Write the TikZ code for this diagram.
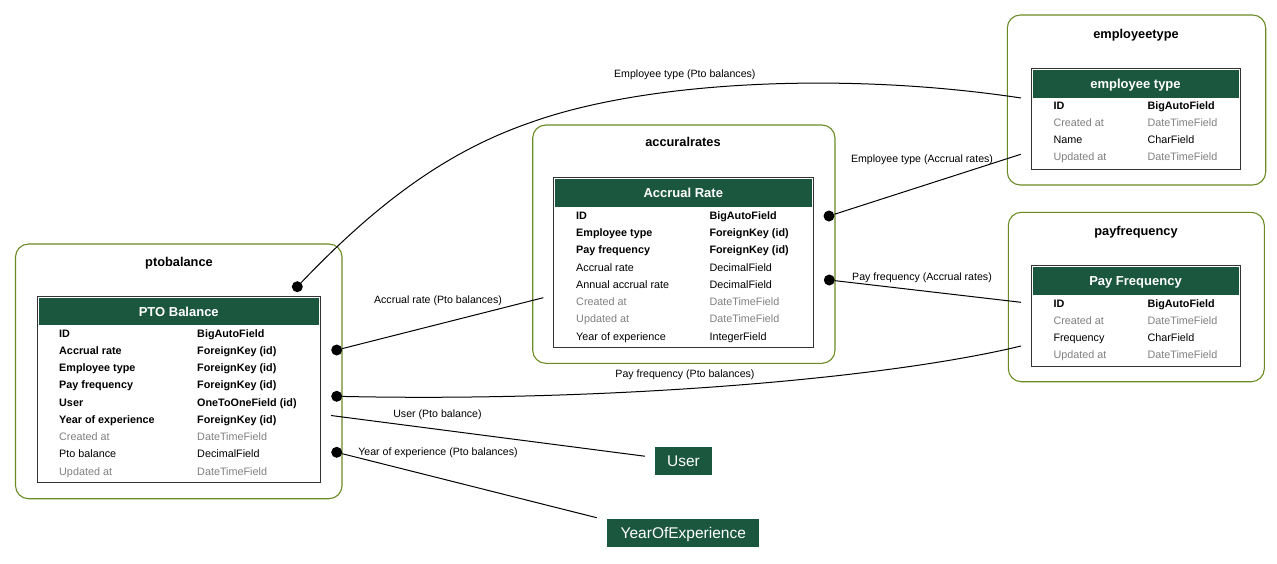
\documentclass[tikz,border=0pt]{standalone}
\usepackage{fontspec}
\setmainfont{Liberation Sans}
\definecolor{hdG}{RGB}{27,86,63}
\definecolor{clL}{RGB}{105,139,34}
\definecolor{dimT}{RGB}{128,128,128}
\definecolor{tabL}{RGB}{51,51,51}

\begin{document}
\begin{tikzpicture}[
  x=1pt, y=-1pt,
  clus/.style={draw=clL, line width=1.1pt, rounded corners=13pt, inner sep=0pt},
  tabl/.style={draw=tabL, fill=white, line width=1pt, inner sep=0pt},
  hdr/.style={fill=hdG, text=white, inner sep=0pt, font=\fontsize{13}{15}\selectfont\bfseries, text height=9.3pt, text depth=0pt},
  ttl/.style={anchor=base, inner sep=0pt, font=\fontsize{12.8}{15}\selectfont\bfseries},
  fk/.style={anchor=base west, inner sep=0pt, font=\fontsize{10.8}{12}\selectfont\bfseries},
  fld/.style={anchor=base west, inner sep=0pt, font=\fontsize{10.8}{12}\selectfont},
  dim/.style={fld, text=dimT},
  ext/.style={fill=hdG, text=white, inner sep=0pt, font=\fontsize{15.5}{18}\selectfont, text height=11.2pt, text depth=0pt},
  dot/.style={circle, fill=black, inner sep=0pt, minimum size=11pt},
  lnk/.style={line width=1pt, draw=black},
  elab/.style={inner sep=0pt, font=\fontsize{10.6}{12}\selectfont},
]
\useasboundingbox (0,0) rectangle (1277,563);

% ---- ptobalance ----
\node[clus, minimum width=326.5pt, minimum height=254.7pt] (ptoCl) at (178.75,371.35) {};
\node[ttl] (ptoTtl) at (179,266) {ptobalance};
\node[tabl, minimum width=283.5pt, minimum height=186.7pt] (ptoTab) at (178.75,389.35) {};
\node[hdr, minimum width=280.5pt, minimum height=27.8pt] (ptoHd) at (178.75,311.4) {PTO Balance};
\node[fk]  (pto1a) at (59,337.1) {ID};
\node[fk]  (pto1b) at (197,337.1) {BigAutoField};
\node[fk]  (pto2a) at (59,354.35) {Accrual rate};
\node[fk]  (pto2b) at (197,354.35) {ForeignKey (id)};
\node[fk]  (pto3a) at (59,371.6) {Employee type};
\node[fk]  (pto3b) at (197,371.6) {ForeignKey (id)};
\node[fk]  (pto4a) at (59,388.85) {Pay frequency};
\node[fk]  (pto4b) at (197,388.85) {ForeignKey (id)};
\node[fk]  (pto5a) at (59,406.1) {User};
\node[fk]  (pto5b) at (197,406.1) {OneToOneField (id)};
\node[fk]  (pto6a) at (59,423.35) {Year of experience};
\node[fk]  (pto6b) at (197,423.35) {ForeignKey (id)};
\node[dim] (pto7a) at (59,440.6) {Created at};
\node[dim] (pto7b) at (197,440.6) {DateTimeField};
\node[fld] (pto8a) at (59,457.85) {Pto balance};
\node[fld] (pto8b) at (197,457.85) {DecimalField};
\node[dim] (pto9a) at (59,475.1) {Updated at};
\node[dim] (pto9b) at (197,475.1) {DateTimeField};

% ---- accuralrates ----
\node[clus, minimum width=302.3pt, minimum height=238.3pt] (accCl) at (683.85,244.15) {};
\node[ttl] (accTtl) at (683,146.5) {accuralrates};
\node[tabl, minimum width=260pt, minimum height=170pt] (accTab) at (683.3,262.7) {};
\node[hdr, minimum width=257pt, minimum height=28.1pt] (accHd) at (683.3,193.25) {Accrual Rate};
\node[fk]  (acc1a) at (576,219.1) {ID};
\node[fk]  (acc1b) at (709.3,219.1) {BigAutoField};
\node[fk]  (acc2a) at (576,236.4) {Employee type};
\node[fk]  (acc2b) at (709.3,236.4) {ForeignKey (id)};
\node[fk]  (acc3a) at (576,253.7) {Pay frequency};
\node[fk]  (acc3b) at (709.3,253.7) {ForeignKey (id)};
\node[fld] (acc4a) at (576,271.0) {Accrual rate};
\node[fld] (acc4b) at (709.3,271.0) {DecimalField};
\node[fld] (acc5a) at (576,288.3) {Annual accrual rate};
\node[fld] (acc5b) at (709.3,288.3) {DecimalField};
\node[dim] (acc6a) at (576,305.6) {Created at};
\node[dim] (acc6b) at (709.3,305.6) {DateTimeField};
\node[dim] (acc7a) at (576,322.8) {Updated at};
\node[dim] (acc7b) at (709.3,322.8) {DateTimeField};
\node[fld] (acc8a) at (576,340.1) {Year of experience};
\node[fld] (acc8b) at (709.3,340.1) {IntegerField};

% ---- employeetype ----
\node[clus, minimum width=258.4pt, minimum height=170pt] (etCl) at (1136.5,100) {};
\node[ttl] (etTtl) at (1136,38.3) {employeetype};
\node[tabl, minimum width=209pt, minimum height=100.7pt] (etTab) at (1135.5,118.65) {};
\node[hdr, minimum width=206pt, minimum height=28.5pt] (etHd) at (1135.5,84.05) {employee type};
\node[fk]  (et1a) at (1053.3,109.1) {ID};
\node[fk]  (et1b) at (1147.3,109.1) {BigAutoField};
\node[dim] (et2a) at (1053.3,126.3) {Created at};
\node[dim] (et2b) at (1147.3,126.3) {DateTimeField};
\node[fld] (et3a) at (1053.3,143.5) {Name};
\node[fld] (et3b) at (1147.3,143.5) {CharField};
\node[dim] (et4a) at (1053.3,160.7) {Updated at};
\node[dim] (et4b) at (1147.3,160.7) {DateTimeField};

% ---- payfrequency ----
\node[clus, minimum width=256pt, minimum height=169.4pt] (pfCl) at (1136.3,297) {};
\node[ttl] (pfTtl) at (1136,235.3) {payfrequency};
\node[tabl, minimum width=209pt, minimum height=101pt] (pfTab) at (1135.5,316.2) {};
\node[hdr, minimum width=206pt, minimum height=27.8pt] (pfHd) at (1135.5,281.1) {Pay Frequency};
\node[fk]  (pf1a) at (1053.3,307.5) {ID};
\node[fk]  (pf1b) at (1147.3,307.5) {BigAutoField};
\node[dim] (pf2a) at (1053.3,324.6) {Created at};
\node[dim] (pf2b) at (1147.3,324.6) {DateTimeField};
\node[fld] (pf3a) at (1053.3,341.7) {Frequency};
\node[fld] (pf3b) at (1147.3,341.7) {CharField};
\node[dim] (pf4a) at (1053.3,358.8) {Updated at};
\node[dim] (pf4b) at (1147.3,358.8) {DateTimeField};

% ---- outside models ----
\node[ext, minimum width=57pt, minimum height=27.7pt] (usr) at (683.5,461.2) {User};
\node[ext, minimum width=152pt, minimum height=28pt] (yoe) at (683.3,533.3) {YearOfExperience};

% ---- links ----
\node[dot] (dEtPto)  at (297.3,286.7) {};
\node[dot] (dArPto)  at (336.7,350) {};
\node[dot] (dPfPto)  at (336.7,396.3) {};
\node[dot] (dYoePto) at (336.7,452.3) {};
\node[dot] (dEtAcc)  at (829,216) {};
\node[dot] (dPfAcc)  at (829.3,280) {};
\coordinate (etPtoEnd) at (1021,98);
\coordinate (arPtoEnd) at (543.3,297.7);
\coordinate (pfPtoEnd) at (1021,346);
\coordinate (yoePtoEnd) at (596.7,517.7);
\coordinate (usrFrom) at (331,415.5);
\coordinate (etAccEnd) at (1020.7,154.3);
\coordinate (pfAccEnd) at (1021,302.3);

\draw[lnk] (dEtPto) .. controls (380,200) and (450,150) .. (532,122) .. controls (650,80) and (850,72) .. (etPtoEnd);
\draw[lnk] (dArPto) -- (arPtoEnd);
\draw[lnk] (dPfPto) .. controls (600,402) and (880,380) .. (pfPtoEnd);
\draw[lnk, shorten >=10pt] (usrFrom) -- (usr);
\draw[lnk] (dYoePto) -- (yoePtoEnd);
\draw[lnk] (dEtAcc) -- (etAccEnd);
\draw[lnk] (dPfAcc) -- (pfAccEnd);

\node[elab] (lEtPto)  at (684.8,75) {Employee type (Pto balances)};
\node[elab] (lArPto)  at (438,301) {Accrual rate (Pto balances)};
\node[elab] (lPfPto)  at (685,375) {Pay frequency (Pto balances)};
\node[elab] (lUsrPto) at (437.5,414.7) {User (Pto balance)};
\node[elab] (lYoePto) at (438,452.7) {Year of experience (Pto balances)};
\node[elab] (lEtAcc)  at (922,159.3) {Employee type (Accrual rates)};
\node[elab] (lPfAcc)  at (922,277.3) {Pay frequency (Accrual rates)};

\end{tikzpicture}
\end{document}
